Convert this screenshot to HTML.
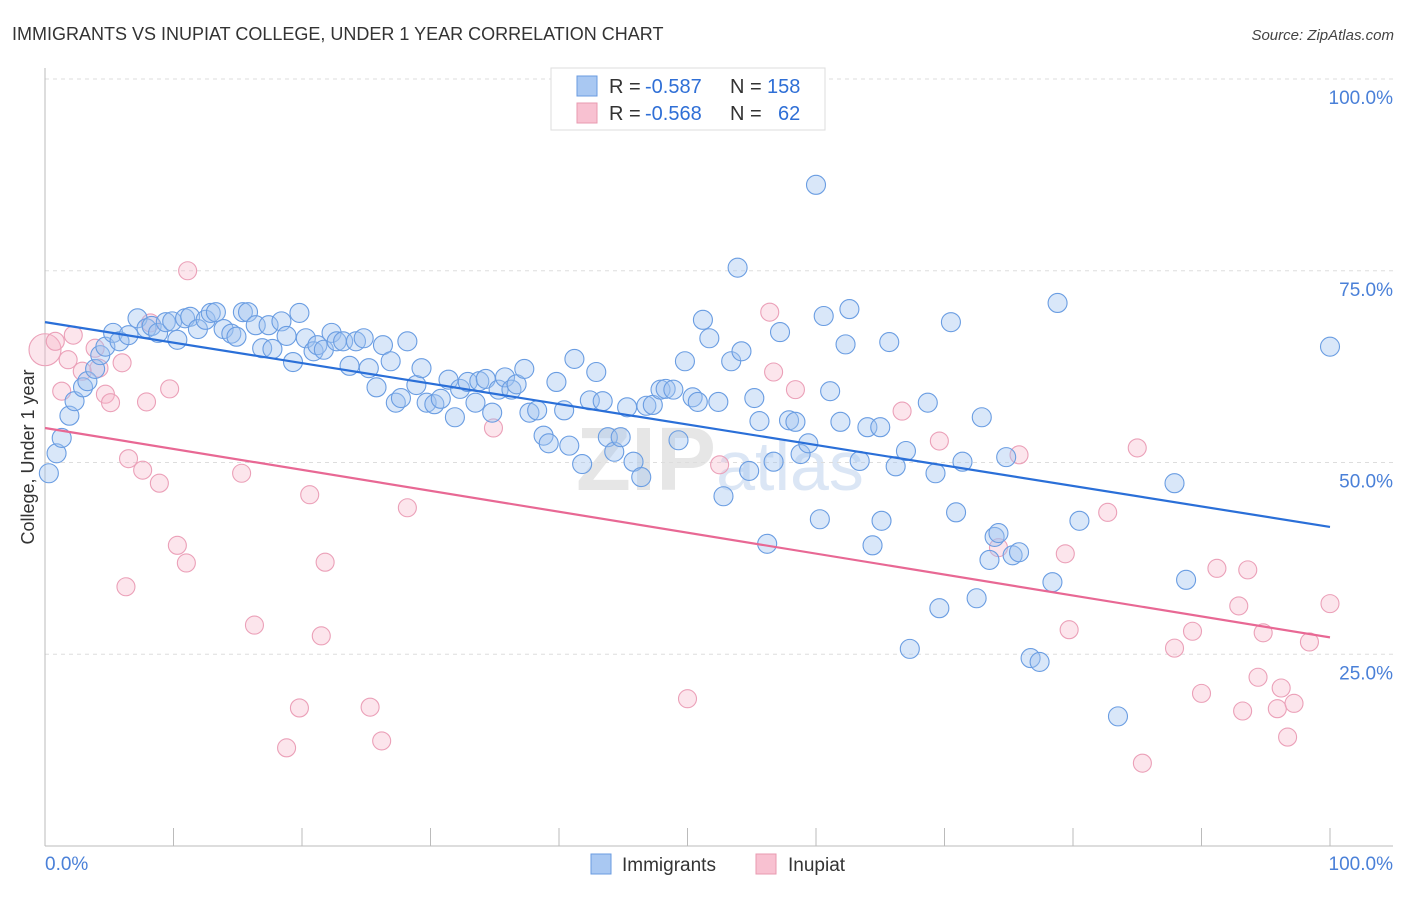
<!DOCTYPE html>
<html><head><meta charset="utf-8"><style>
body{margin:0;background:#fff;font-family:"Liberation Sans",sans-serif;}
svg text{font-family:"Liberation Sans",sans-serif;}
</style></head><body>
<svg id="chart" width="1406" height="892" xmlns="http://www.w3.org/2000/svg">
<text x="12" y="40" font-size="18" fill="#333">IMMIGRANTS VS INUPIAT COLLEGE, UNDER 1 YEAR CORRELATION CHART</text>
<text x="1394" y="40" font-size="15" fill="#444" font-style="italic" text-anchor="end">Source: ZipAtlas.com</text>
<text x="720" y="490" font-size="90" fill="#e6e6e6" text-anchor="middle" font-weight="bold">ZIP<tspan fill="#dbe6f5" font-weight="normal" font-size="70">atlas</tspan></text>
<g id="grid"></g>
<g id="axes"></g>
<g id="pts"></g>
<g id="trends"></g>
<text x="34" y="457" font-size="18" fill="#333" text-anchor="middle" transform="rotate(-90 34 457)">College, Under 1 year</text>
<g>
<rect x="551" y="68" width="274" height="62" fill="#fff" stroke="#ddd"/>
<rect x="577" y="76" width="20" height="20" fill="#a9c8f2" stroke="#6a9be0"/>
<rect x="577" y="103" width="20" height="20" fill="#f8c1d1" stroke="#e89ab0"/>
<text x="609" y="93" font-size="20" fill="#333">R =</text>
<text x="645" y="93" font-size="20" fill="#2f6fd6">-0.587</text>
<text x="730" y="93" font-size="20" fill="#333">N =</text>
<text x="767" y="93" font-size="20" fill="#2f6fd6">158</text>
<text x="609" y="120" font-size="20" fill="#333">R =</text>
<text x="645" y="120" font-size="20" fill="#2f6fd6">-0.568</text>
<text x="730" y="120" font-size="20" fill="#333">N =</text>
<text x="778" y="120" font-size="20" fill="#2f6fd6">62</text>
</g>
<g>
<rect x="591" y="854" width="20" height="20" fill="#a9c8f2" stroke="#6a9be0"/>
<text x="622" y="871" font-size="19" fill="#333">Immigrants</text>
<rect x="756" y="854" width="20" height="20" fill="#f8c1d1" stroke="#e89ab0"/>
<text x="788" y="871" font-size="19" fill="#333">Inupiat</text>
</g>
</svg>
<script>
const yTicks=[25,50,75,100];
const yTickLabels=["25.0%","50.0%","75.0%","100.0%"];
const xTicks=[0,10,20,30,40,50,60,70,80,90,100];
const immX=[0.3,0.9,1.3,1.9,2.3,2.96,3.3,3.9,4.3,4.7,5.3,5.8,6.5,7.2,7.9,8.3,8.8,9.4,9.9,10.3,10.9,11.3,11.9,12.5,12.9,13.3,13.9,14.5,14.9,15.4,15.8,16.4,16.9,17.4,17.7,18.4,18.8,19.3,19.8,20.3,20.9,21.2,21.7,22.3,22.7,23.2,23.7,24.2,24.8,25.2,25.8,26.3,26.9,27.3,27.7,28.2,28.9,29.3,29.7,30.3,30.8,31.4,31.9,32.3,32.9,33.5,33.8,34.3,34.8,35.3,35.8,36.3,36.7,37.3,37.7,38.3,38.8,39.2,39.8,40.4,40.8,41.2,41.8,42.4,42.9,43.4,43.8,44.3,44.8,45.3,45.8,46.4,46.8,47.3,47.9,48.3,48.9,49.3,49.8,50.4,50.8,51.2,51.7,52.4,52.8,53.4,53.9,54.2,54.8,55.2,55.6,56.2,56.7,57.2,57.9,58.4,58.8,59.4,60.0,60.3,60.6,61.1,61.9,62.3,62.6,63.4,64.0,64.4,65.0,65.1,65.7,66.2,67.0,67.3,68.7,69.3,69.6,70.5,70.9,71.4,72.5,72.9,73.5,73.9,74.2,74.8,75.3,75.8,76.7,77.4,78.4,78.8,80.5,83.5,87.9,88.8,100];
const immY=[48.6,51.2,53.2,56.1,58.0,59.8,60.6,62.2,64.0,65.1,66.9,65.8,66.6,68.8,67.5,67.8,66.9,68.3,68.4,66.0,68.8,69.0,67.4,68.6,69.5,69.6,67.4,66.8,66.4,69.6,69.6,67.9,64.9,67.9,64.8,68.4,66.5,63.1,69.5,66.2,64.5,65.3,64.7,66.9,65.8,65.8,62.6,65.8,66.2,62.3,59.8,65.3,63.2,57.8,58.4,65.8,60.1,62.3,57.8,57.6,58.3,60.8,55.9,59.6,60.5,57.8,60.6,60.9,56.5,59.5,61.1,59.5,60.2,62.2,56.5,56.8,53.5,52.5,60.5,56.8,52.2,63.5,49.8,58.1,61.8,58.0,53.3,51.4,53.3,57.2,50.1,48.1,57.4,57.5,59.5,59.6,59.5,52.9,63.2,58.5,57.9,68.6,66.2,57.9,45.6,63.2,75.4,64.5,48.9,58.4,55.4,39.4,50.1,67.0,55.5,55.3,51.1,52.5,86.2,42.6,69.1,59.3,55.3,65.4,70.0,50.2,54.6,39.2,54.6,42.4,65.7,49.5,51.5,25.7,57.8,48.6,31.0,68.3,43.5,50.1,32.3,55.9,37.3,40.3,40.8,50.7,37.9,38.3,24.5,24.0,34.4,70.8,42.4,16.9,47.3,34.7,65.1];
const inuX=[0,0.8,2.2,1.8,1.3,2.9,3.9,4.2,4.7,5.1,6.0,6.3,6.5,7.6,7.9,8.2,8.9,9.7,10.3,11.0,11.1,15.3,16.3,18.8,19.8,20.6,21.5,21.8,25.3,26.2,28.2,34.9,50.0,52.5,56.4,56.7,58.4,66.7,69.6,74.2,75.8,79.4,79.7,82.7,85.0,85.4,87.9,89.3,90.0,91.2,92.9,93.2,93.6,94.4,94.8,95.9,96.2,96.7,97.2,98.4,100];
const inuY=[64.7,65.8,66.6,63.4,59.3,61.9,64.9,62.3,58.9,57.8,63.0,33.8,50.5,49.0,57.9,68.2,47.3,59.6,39.2,36.9,75.0,48.6,28.8,12.8,18.0,45.8,27.4,37.0,18.1,13.7,44.1,54.5,19.2,49.7,69.6,61.8,59.5,56.7,52.8,38.9,51.0,38.1,28.2,43.5,51.9,10.8,25.8,28.0,19.9,36.2,31.3,17.6,36.0,22.0,27.8,17.9,20.6,14.2,18.6,26.6,31.6];
const immTrend=[68.3,41.6];
const inuTrend=[54.5,27.2];
const NS="http://www.w3.org/2000/svg";
const X=v=>45+v*12.85, Y=v=>846-v*7.67;
function mk(t,a,p){const e=document.createElementNS(NS,t);for(const k in a)e.setAttribute(k,a[k]);p.appendChild(e);return e;}
const grid=document.getElementById('grid'),axes=document.getElementById('axes'),pts=document.getElementById('pts'),tr=document.getElementById('trends');
yTicks.forEach((v,i)=>{
 const l=mk('line',{x1:45,x2:1393,y1:Y(v),y2:Y(v),stroke:'#ddd','stroke-dasharray':'4,4'},grid);
 
 
 const t=mk('text',{x:1393,y:Y(v)+25,'font-size':19,fill:'#4a80d8','text-anchor':'end'},axes);
 t.textContent=yTickLabels[i];
 
 
});
mk('line',{x1:45,x2:45,y1:68,y2:846,stroke:'#bbb'},axes);
mk('line',{x1:45,x2:1393,y1:846,y2:846,stroke:'#bbb'},axes);
xTicks.forEach(v=>{const l=mk('line',{x1:X(v),x2:X(v),y1:828,y2:846,stroke:'#bbb'},axes);
 
 });
let t=mk('text',{x:45,y:870,'font-size':19,fill:'#4a80d8'},axes);t.textContent='0.0%';


t=mk('text',{x:1393,y:870,'font-size':19,fill:'#4a80d8','text-anchor':'end'},axes);t.textContent='100.0%';


inuX.forEach((x,i)=>{const c=mk('circle',{cx:X(x),cy:Y(inuY[i]),r:i==0?16:9,fill:'rgba(246,180,200,0.35)',stroke:'#eba0b8','stroke-width':1.1},pts);
 
 });
immX.forEach((x,i)=>{const c=mk('circle',{cx:X(x),cy:Y(immY[i]),r:9.5,fill:'rgba(160,196,240,0.4)',stroke:'#6a9de2','stroke-width':1.1},pts);
 
 });
let l=mk('line',{x1:X(0),x2:X(100),y1:Y(immTrend[0]),y2:Y(immTrend[1]),stroke:'#2a6fd8','stroke-width':2.2},tr);


l=mk('line',{x1:X(0),x2:X(100),y1:Y(inuTrend[0]),y2:Y(inuTrend[1]),stroke:'#e86894','stroke-width':2.2},tr);


</script>
</body></html>
